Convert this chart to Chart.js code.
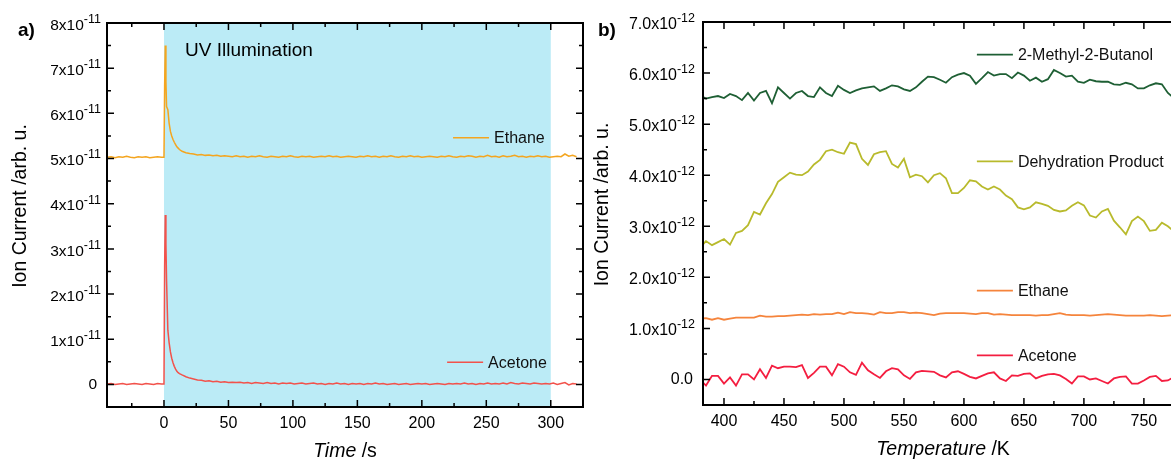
<!DOCTYPE html>
<html>
<head>
<meta charset="utf-8">
<script src="https://cdn.jsdelivr.net/npm/chart.js@4.4.0/dist/chart.umd.min.js"></script>
<style>
    html, body { margin: 0; padding: 0; background: #fff; overflow: hidden; }
    #wrap { position: relative; width: 1171px; height: 459px; overflow: hidden; }
    canvas { position: absolute; top: 0; }
    #panelA { left: 0; }
    #panelB { left: 590px; }
</style>
</head>
<body>
<div id="wrap">
    <canvas id="panelA" width="590" height="459"></canvas>
    <canvas id="panelB" width="600" height="459"></canvas>
</div>
<script>
/**
 * Panel a) : ion current vs time, values in units of 1e-11
 */
const timeA = [
    -44, -41, -38, -35, -32, -29, -26, -23, -20, -17, -14, -11, -8, -5, -2,
    0, 0.5, 1, 1.5, 2, 3, 4, 5, 6, 7, 8, 9, 10, 11, 12, 14,
    17, 20, 23, 26, 29, 32, 35, 38, 41, 44,
    47, 50, 53, 56, 59, 62, 65, 68, 71, 74,
    77, 80, 83, 86, 89, 92, 95, 98, 101, 104,
    107, 110, 113, 116, 119, 122, 125, 128, 131, 134,
    137, 140, 143, 146, 149, 152, 155, 158, 161, 164,
    167, 170, 173, 176, 179, 182, 185, 188, 191, 194,
    197, 200, 203, 206, 209, 212, 215, 218, 221, 224,
    227, 230, 233, 236, 239, 242, 245, 248, 251, 254,
    257, 260, 263, 266, 269, 272, 275, 278, 281, 284,
    287, 290, 293, 296, 299, 302, 305, 308, 311, 314,
    317, 320
];
const ethaneA = [
    5.03, 5.04, 5.02, 5.04, 5.03, 5.05, 5.03, 5.02, 5.04, 5.03, 5.04, 5.02, 5.03, 5.04, 5.03,
    5.03, 6.6, 7.5, 6.7, 6.15, 6.08, 5.78, 5.6, 5.5, 5.42, 5.36, 5.31, 5.26, 5.23, 5.20, 5.16,
    5.13, 5.11, 5.10, 5.08, 5.09, 5.07, 5.08, 5.06, 5.07, 5.05,
    5.06, 5.05, 5.04, 5.06, 5.04, 5.05, 5.03, 5.05, 5.04, 5.06,
    5.04, 5.03, 5.05, 5.04, 5.03, 5.05, 5.04, 5.06, 5.04, 5.03,
    5.05, 5.04, 5.05, 5.03, 5.04, 5.05, 5.04, 5.06, 5.04, 5.05,
    5.03, 5.04, 5.05, 5.04, 5.03, 5.05, 5.04, 5.06, 5.04, 5.05,
    5.03, 5.05, 5.04, 5.06, 5.04, 5.03, 5.05, 5.04, 5.06, 5.04,
    5.05, 5.03, 5.04, 5.05, 5.04, 5.03, 5.05, 5.04, 5.06, 5.04,
    5.03, 5.05, 5.04, 5.06, 5.05, 5.03, 5.05, 5.04, 5.07, 5.04,
    5.05, 5.03, 5.06, 5.04, 5.05, 5.07, 5.04, 5.05, 5.03, 5.05,
    5.04, 5.06, 5.04, 5.05, 5.03, 5.04, 5.05, 5.04, 5.10, 5.05,
    5.07, 5.04
];
const acetoneA = [
    0.01, 0.02, 0.00, 0.01, 0.02, 0.00, 0.01, 0.02, 0.01, 0.00, 0.02, 0.01, 0.00, 0.02, 0.01,
    0.01, 2.6, 3.75, 3.1, 2.3, 1.2, 0.92, 0.72, 0.58, 0.48, 0.40, 0.34, 0.29, 0.26, 0.24, 0.21,
    0.17, 0.14, 0.12, 0.10, 0.09, 0.07, 0.08, 0.06, 0.07, 0.05,
    0.06, 0.04, 0.05, 0.04, 0.05, 0.03, 0.04, 0.02, 0.04, 0.03,
    0.02, 0.04, 0.02, 0.03, 0.01, 0.03, 0.02, 0.03, 0.01, 0.02,
    0.03, 0.01, 0.02, 0.03, 0.01, 0.02, 0.00, 0.02, 0.01, 0.03,
    0.01, 0.02, 0.00, 0.02, 0.01, 0.02, 0.00, 0.02, 0.01, 0.03,
    0.01, 0.02, 0.00, 0.01, 0.02, 0.00, 0.01, 0.02, 0.00, 0.01,
    0.02, 0.01, 0.02, 0.00, 0.01, 0.02, 0.01, 0.00, 0.02, 0.01,
    0.02, 0.01, 0.03, 0.01, 0.02, 0.00, 0.02, 0.01, 0.03, 0.01,
    0.02, 0.01, 0.03, 0.01, 0.04, 0.02, 0.01, 0.03, 0.02, 0.01,
    0.03, 0.02, 0.01, 0.02, 0.01, 0.03, 0.00, 0.02, 0.04, -0.01,
    0.02, 0.01
];
const timeTicksA = [0, 50, 100, 150, 200, 250, 300];
const ionTicksA = [0, 1, 2, 3, 4, 5, 6, 7, 8];

/**
 * Panel b) : ion current vs temperature, values in units of 1e-12
 */
const tempB = [
    380, 385, 390, 395, 400, 405, 410, 415, 420, 425,
    430, 435, 440, 445, 450, 455, 460, 465, 470, 475,
    480, 485, 490, 495, 500, 505, 510, 515, 520, 525,
    530, 535, 540, 545, 550, 555, 560, 565, 570, 575,
    580, 585, 590, 595, 600, 605, 610, 615, 620, 625,
    630, 635, 640, 645, 650, 655, 660, 665, 670, 675,
    680, 685, 690, 695, 700, 705, 710, 715, 720, 725,
    730, 735, 740, 745, 750, 755, 760, 765, 770, 775
];
const methylB = [
    5.56, 5.50, 5.53, 5.55, 5.51, 5.59, 5.55, 5.47, 5.61, 5.46,
    5.61, 5.65, 5.41, 5.72, 5.61, 5.50, 5.61, 5.65, 5.55, 5.53,
    5.72, 5.61, 5.55, 5.75, 5.67, 5.61, 5.66, 5.70, 5.72, 5.74,
    5.65, 5.70, 5.76, 5.74, 5.68, 5.65, 5.72, 5.83, 5.93, 5.92,
    5.87, 5.81, 5.92, 5.97, 6.00, 5.95, 5.79, 5.90, 6.02, 5.95,
    5.98, 5.98, 5.90, 6.01, 5.95, 5.85, 5.91, 5.83, 5.88, 6.06,
    6.00, 5.93, 5.95, 5.83, 5.81, 5.87, 5.84, 5.83, 5.83, 5.78,
    5.77, 5.81, 5.78, 5.70, 5.70, 5.76, 5.80, 5.78, 5.61, 5.51
];
const dehydB = [
    2.58, 2.71, 2.63, 2.69, 2.75, 2.64, 2.87, 2.91, 3.02, 3.28,
    3.23, 3.45, 3.63, 3.87, 3.96, 4.05, 4.01, 4.00, 4.07, 4.21,
    4.30, 4.47, 4.50, 4.45, 4.42, 4.64, 4.61, 4.32, 4.20, 4.41,
    4.45, 4.47, 4.22, 4.15, 4.32, 3.96, 4.01, 3.98, 3.86, 4.00,
    4.04, 3.94, 3.65, 3.65, 3.75, 3.90, 3.88, 3.78, 3.72, 3.78,
    3.72, 3.60, 3.53, 3.37, 3.33, 3.37, 3.47, 3.44, 3.40, 3.32,
    3.29, 3.31, 3.40, 3.47, 3.41, 3.21, 3.17, 3.29, 3.34, 3.11,
    2.98, 2.84, 3.10, 3.19, 3.10, 2.91, 2.93, 3.07, 3.00, 2.90
];
const ethaneB = [
    1.19, 1.20, 1.17, 1.20, 1.17, 1.19, 1.21, 1.21, 1.21, 1.21,
    1.25, 1.23, 1.23, 1.24, 1.24, 1.25, 1.26, 1.27, 1.26, 1.28,
    1.27, 1.28, 1.28, 1.31, 1.28, 1.32, 1.30, 1.30, 1.29, 1.27,
    1.32, 1.30, 1.30, 1.32, 1.32, 1.30, 1.31, 1.30, 1.28, 1.26,
    1.29, 1.30, 1.30, 1.30, 1.30, 1.29, 1.28, 1.30, 1.30, 1.27,
    1.28, 1.27, 1.26, 1.26, 1.26, 1.26, 1.25, 1.26, 1.26, 1.28,
    1.30, 1.27, 1.26, 1.26, 1.26, 1.25, 1.26, 1.27, 1.28, 1.27,
    1.26, 1.25, 1.25, 1.25, 1.25, 1.26, 1.25, 1.24, 1.25, 1.26
];
const acetoneB = [
    0.00, -0.12, 0.07, 0.07, -0.08, 0.04, -0.12, 0.10, 0.10, 0.00,
    0.20, 0.03, 0.27, 0.22, 0.25, 0.25, 0.24, 0.28, 0.03, 0.13,
    0.25, 0.25, 0.08, 0.30, 0.25, 0.14, 0.09, 0.33, 0.18, 0.10,
    0.03, 0.16, 0.22, 0.20, 0.08, 0.01, 0.14, 0.17, 0.16, 0.15,
    0.08, 0.04, 0.14, 0.16, 0.11, 0.05, 0.02, 0.07, 0.12, 0.14,
    0.02, -0.03, 0.08, 0.07, 0.11, 0.12, 0.02, 0.07, 0.10, 0.11,
    0.08, 0.01, -0.08, 0.06, 0.06, 0.00, 0.02, -0.03, -0.08, 0.02,
    0.05, 0.06, -0.08, -0.08, -0.02, 0.05, 0.07, -0.03, -0.02, 0.05
];
const tempTicksB = [400, 450, 500, 550, 600, 650, 700, 750];
const ionTicksB = [0, 1, 2, 3, 4, 5, 6, 7];

const FONT = '"Liberation Sans", Arial, sans-serif';

function points(xs, ys) {
    return ys.map((v, i) => ({ x: xs[i], y: v }));
}

// minor ticks halfway between the major ones
function minorTicks(majors, min, max) {
    const step = majors[1] - majors[0];
    const out = [];
    for (let v = majors[0] - step / 2; v <= majors[majors.length - 1] + step; v += step) {
        if (v > min && v < max) out.push(v);
    }
    return out;
}

// Origin style frame: box, inward ticks, labels with exponents, titles, inline legend
function originAxes(p) {
    return {
        id: 'originAxes',
        beforeDatasetsDraw(chart) {
            if (!p.band) return;
            const { ctx, chartArea: a, scales: { x } } = chart;
            const x0 = x.getPixelForValue(p.band.from);
            const x1 = x.getPixelForValue(p.band.to);
            ctx.save();
            ctx.fillStyle = p.band.color;
            ctx.fillRect(x0, a.top, x1 - x0, a.bottom - a.top);
            ctx.restore();
        },
        afterDatasetsDraw(chart) {
            const { ctx, chartArea: a, scales: { x, y } } = chart;
            ctx.save();

            // ticks
            ctx.strokeStyle = '#000';
            ctx.lineWidth = 1.5;
            ctx.beginPath();
            const vTick = (px, len) => {
                ctx.moveTo(px, a.bottom); ctx.lineTo(px, a.bottom - len);
                ctx.moveTo(px, a.top); ctx.lineTo(px, a.top + len);
            };
            const hTick = (py, len) => {
                ctx.moveTo(a.left, py); ctx.lineTo(a.left + len, py);
                ctx.moveTo(a.right, py); ctx.lineTo(a.right - len, py);
            };
            p.xTicks.forEach(v => vTick(x.getPixelForValue(v), 7));
            minorTicks(p.xTicks, x.min, x.max).forEach(v => vTick(x.getPixelForValue(v), 4));
            p.yTicks.forEach(v => hTick(y.getPixelForValue(v), 7));
            minorTicks(p.yTicks, y.min, y.max).forEach(v => hTick(y.getPixelForValue(v), 4));
            ctx.stroke();
            ctx.lineWidth = 2;
            ctx.strokeRect(a.left, a.top, a.right - a.left, a.bottom - a.top);

            // y tick labels, like 5x10^-11
            ctx.fillStyle = '#000';
            ctx.textBaseline = 'middle';
            ctx.textAlign = 'right';
            p.yTicks.forEach(v => {
                const py = y.getPixelForValue(v);
                if (v === 0) {
                    ctx.font = p.tickFont + 'px ' + FONT;
                    ctx.fillText(p.zeroLabel, a.left - p.plainGap, py);
                    return;
                }
                const right = a.left - p.expGap;
                ctx.font = p.expFont + 'px ' + FONT;
                const ew = ctx.measureText(p.exponent).width;
                ctx.fillText(p.exponent, right, py - 3.5);
                ctx.font = p.tickFont + 'px ' + FONT;
                ctx.fillText(v.toFixed(p.decimals) + 'x10', right - ew, py + 2.5);
            });

            // x tick labels
            ctx.textAlign = 'center';
            ctx.font = '16px ' + FONT;
            p.xTicks.forEach(v => {
                ctx.fillText(String(v), x.getPixelForValue(v), a.bottom + 17);
            });

            // x title, first word italic
            ctx.textBaseline = 'alphabetic';
            ctx.textAlign = 'left';
            ctx.font = 'italic 19.5px ' + FONT;
            const w1 = ctx.measureText(p.xTitle[0]).width;
            ctx.font = '19.5px ' + FONT;
            const w2 = ctx.measureText(p.xTitle[1]).width;
            const sx = (a.left + a.right) / 2 - (w1 + w2) / 2;
            ctx.font = 'italic 19.5px ' + FONT;
            ctx.fillText(p.xTitle[0], sx, a.bottom + 50);
            ctx.font = '19.5px ' + FONT;
            ctx.fillText(p.xTitle[1], sx + w1, a.bottom + 50);

            // y title
            ctx.save();
            ctx.translate(p.yTitleX, (a.top + a.bottom) / 2 - 9);
            ctx.rotate(-Math.PI / 2);
            ctx.textAlign = 'center';
            ctx.fillText(p.yTitle, 0, 0);
            ctx.restore();

            // panel letter
            ctx.font = 'bold 19px ' + FONT;
            ctx.fillText(p.letter, p.letterX, 36);

            // annotation text
            if (p.note) {
                ctx.font = '19px ' + FONT;
                ctx.fillText(p.note.text, x.getPixelForValue(p.note.x), y.getPixelForValue(p.note.y));
            }

            // inline legend
            chart.data.datasets.forEach((ds, i) => {
                const pos = p.legend[i];
                const lx = x.getPixelForValue(pos.x);
                const ly = y.getPixelForValue(pos.y);
                ctx.strokeStyle = ds.borderColor;
                ctx.lineWidth = ds.borderWidth;
                ctx.beginPath();
                ctx.moveTo(lx, ly);
                ctx.lineTo(lx + 36, ly);
                ctx.stroke();
                ctx.fillStyle = '#111';
                ctx.font = '16px ' + FONT;
                ctx.textBaseline = 'middle';
                ctx.fillText(ds.label, lx + 41, ly + 1);
                ctx.textBaseline = 'alphabetic';
            });

            ctx.restore();
        }
    };
}

function lineSet(label, xs, ys, color, width) {
    return {
        label: label,
        data: points(xs, ys),
        borderColor: color,
        borderWidth: width,
        pointRadius: 0,
        tension: 0,
        fill: false
    };
}

function baseOptions(padding, xMin, xMax, yMin, yMax) {
    return {
        responsive: false,
        animation: false,
        devicePixelRatio: 1,
        events: [],
        layout: { padding: padding },
        plugins: { legend: { display: false }, tooltip: { enabled: false } },
        scales: {
            x: { type: 'linear', min: xMin, max: xMax, display: false },
            y: { type: 'linear', min: yMin, max: yMax, display: false }
        }
    };
}

new Chart(document.getElementById('panelA'), {
    type: 'line',
    data: {
        datasets: [
            lineSet('Ethane', timeA, ethaneA, '#f4a51f', 1.5),
            lineSet('Acetone', timeA, acetoneA, '#f2524b', 1.5)
        ]
    },
    options: baseOptions({ left: 107, right: 7, top: 23, bottom: 52 }, -44.2, 325, -0.5, 8),
    plugins: [originAxes({
        xTicks: timeTicksA,
        yTicks: ionTicksA,
        tickFont: 15.5, expFont: 12.5, exponent: '-11', decimals: 0,
        zeroLabel: '0', plainGap: 10, expGap: 6,
        xTitle: ['Time', ' /s'],
        yTitle: 'Ion Current /arb. u.', yTitleX: 26,
        letter: 'a)', letterX: 18,
        band: { from: 0, to: 300, color: '#bbebf6' },
        note: { text: 'UV Illumination', x: 16.3, y: 7.27 },
        legend: [{ x: 224.2, y: 5.46 }, { x: 219.6, y: 0.49 }]
    })]
});

new Chart(document.getElementById('panelB'), {
    type: 'line',
    data: {
        datasets: [
            lineSet('2-Methyl-2-Butanol', tempB, methylB, '#1e5f34', 1.8),
            lineSet('Dehydration Product', tempB, dehydB, '#b8ba2c', 1.8),
            lineSet('Ethane', tempB, ethaneB, '#f5843c', 1.8),
            lineSet('Acetone', tempB, acetoneB, '#f41e40', 1.8)
        ]
    },
    options: baseOptions({ left: 113, right: 7, top: 22, bottom: 54 }, 382.5, 782.6, -0.5, 7),
    plugins: [originAxes({
        xTicks: tempTicksB,
        yTicks: ionTicksB,
        tickFont: 16, expFont: 12.5, exponent: '-12', decimals: 1,
        zeroLabel: '0.0', plainGap: 10, expGap: 8,
        xTitle: ['Temperature', ' /K'],
        yTitle: 'Ion Current /arb. u.', yTitleX: 18,
        letter: 'b)', letterX: 8,
        legend: [
            { x: 610.8, y: 6.36 },
            { x: 610.8, y: 4.27 },
            { x: 610.8, y: 1.74 },
            { x: 610.8, y: 0.47 }
        ]
    })]
});
</script>
</body>
</html>
